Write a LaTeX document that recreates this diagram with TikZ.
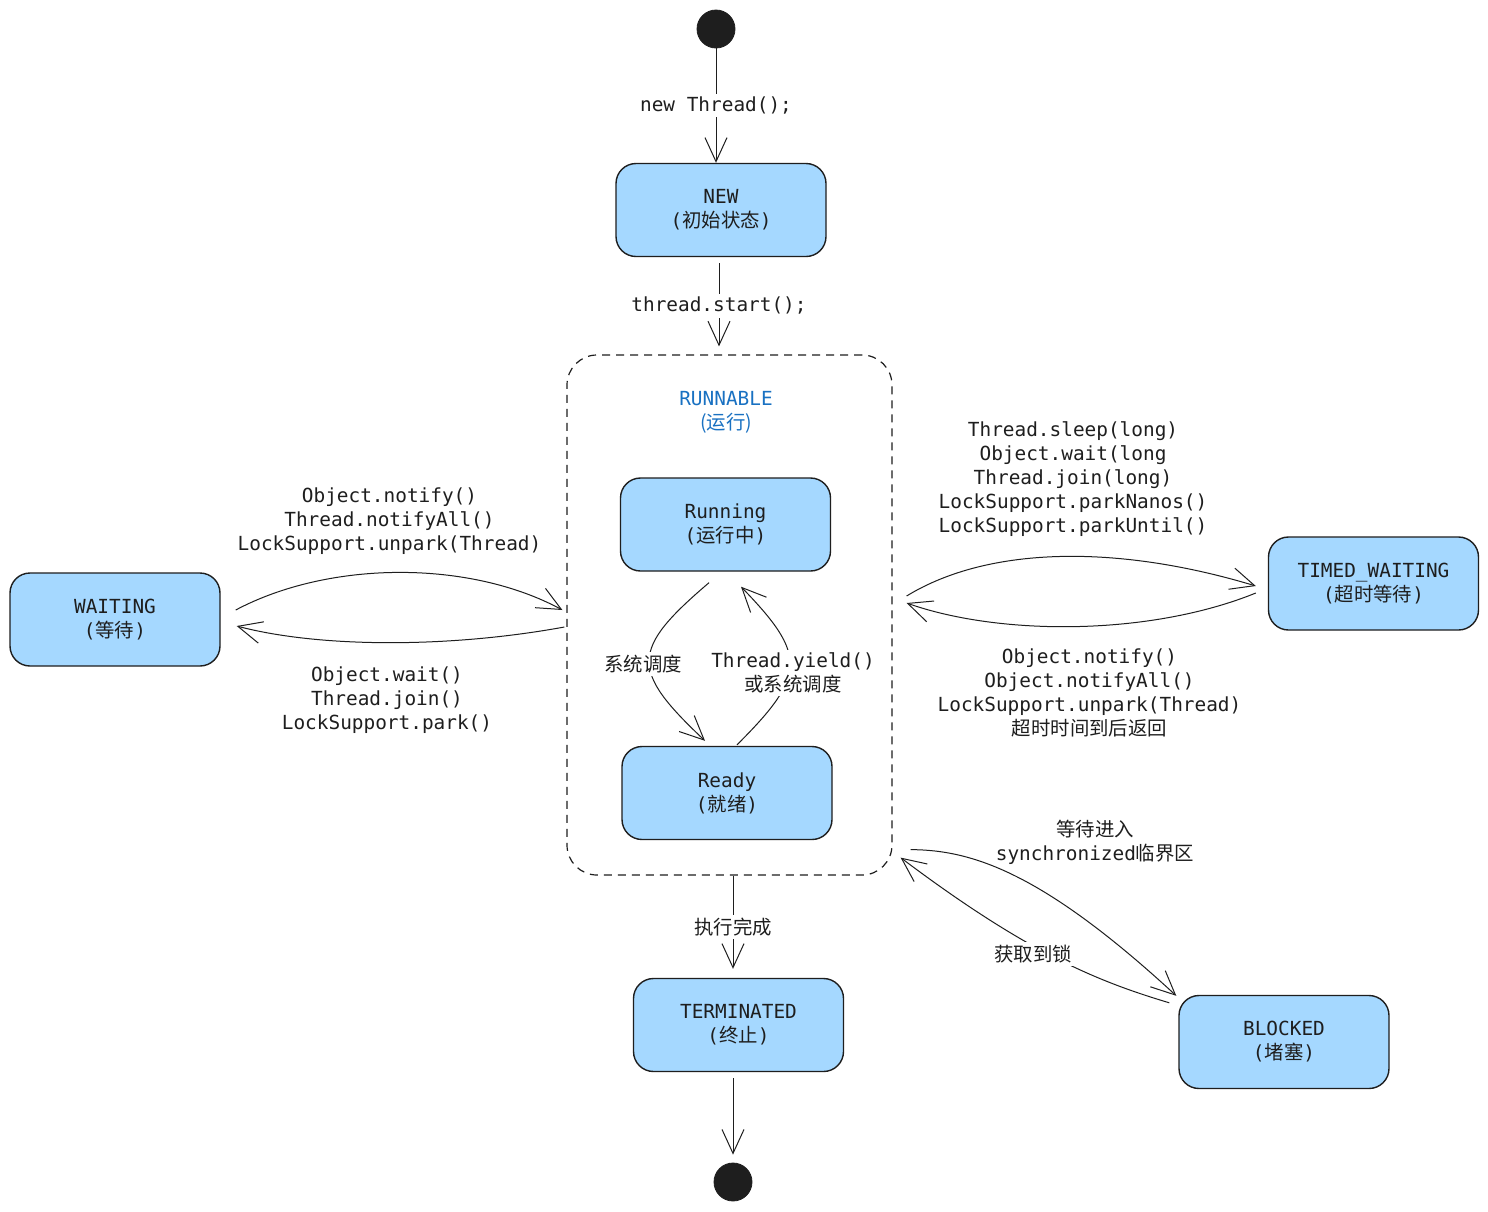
\documentclass[tikz,border=0pt]{standalone}
\usepackage{fontspec}
\setmainfont{DejaVu Sans Mono}
\newfontfamily\cjkfont{Noto Sans CJK SC}
\usetikzlibrary{arrows.meta,calc}
\definecolor{ink}{HTML}{1E1E1E}
\definecolor{boxfill}{HTML}{A5D8FF}
\definecolor{runblue}{HTML}{1971C2}
\newcommand{\zh}[1]{{\cjkfont #1}}
\begin{document}
\begin{tikzpicture}[x=0.5pt,y={(0,-0.5pt)},
  every node/.style={text=ink, font=\fontsize{9.7}{12}\selectfont},
  state/.style={draw=ink, fill=boxfill, line width=0.7pt, rounded corners=10pt,
    minimum width=105pt, minimum height=46.5pt, align=center, inner sep=0pt},
  dot/.style={circle, fill=ink, draw=ink, minimum size=19pt, inner sep=0pt},
  conn/.style={draw=ink, line width=0.5pt, -{Straight Barb[length=12pt,width=11pt]}},
  lbl/.style={fill=white, align=center, inner sep=1.5pt},
  txt/.style={align=center, inner sep=0pt}]
\fill[white] (0,0) rectangle (1488,1211);
\useasboundingbox (0,0) rectangle (1488,1211);

% container
\node[draw=ink, line width=0.6pt, dash pattern=on 4pt off 3pt, rounded corners=15pt,
  minimum width=162.5pt, minimum height=260pt, inner sep=0pt] (runnable) at (729.5,615) {};
\node[txt, text=runblue] (runlbl) at (726,412) {RUNNABLE\\\zh{(运行)}};

% states
\node[dot] (start) at (716,29) {};
\node[state] (new) at (721,210) {NEW\\(\zh{初始状态})};
\node[state] (running) at (725.5,524.5) {Running\\(\zh{运行中})};
\node[state] (ready) at (727,793) {Ready\\(\zh{就绪})};
\node[state] (waiting) at (115,619.5) {WAITING\\(\zh{等待})};
\node[state] (timed) at (1373.5,583.5) {TIMED\_WAITING\\(\zh{超时等待})};
\node[state] (blocked) at (1284,1042) {BLOCKED\\(\zh{堵塞})};
\node[state] (term) at (738.5,1025) {TERMINATED\\(\zh{终止})};
\node[dot] (end) at (733,1182) {};

% anchor helpers
\coordinate (ns) at ($(new.south)+(-2,0)$);
\coordinate (rs) at ($(runnable.south)+(3.5,0)$);
\coordinate (ts) at ($(term.south)+(-5.5,0)$);

% straight connectors
\draw[conn] (start.south) -- (start.south |- new.north)
  node[lbl, midway] (l1) {new Thread();};
\draw[conn, shorten <=3pt, shorten >=4pt] (ns) -- (ns |- runnable.north)
  node[lbl, midway] (l2) {thread.start();};
\draw[conn, shorten >=4.5pt] (rs) -- (rs |- term.north)
  node[lbl, midway] (l3) {\zh{执行完成}};
\draw[conn, shorten <=3pt, shorten >=4pt] (ts) -- (end.north);

% running <-> ready
\draw[conn] ($(running.south)+(-16.5,11)$) .. controls (630,650) and (630,670) .. ($(ready.north)+(-22,-5)$);
\draw[conn] ($(ready.north)+(10,-1)$) .. controls (807,675) and (807,655) .. ($(running.south)+(15.5,15)$);
\node[lbl] (l4) at (643,664) {\zh{系统调度}};
\node[lbl] (l5) at (793,673) {Thread.yield()\\\zh{或系统调度}};

% waiting
\draw[conn] ($(waiting.east)+(15,-9.5)$) .. controls (330,560) and (470,560) .. ($(runnable.west)+(-4,-5)$);
\draw[conn] ($(runnable.west)+(-2,12)$) .. controls (450,648) and (320,648) .. ($(waiting.east)+(16,6.5)$);
\node[txt] (l6) at (389.5,521.5) {Object.notify()\\Thread.notifyAll()\\LockSupport.unpark(Thread)};
\node[txt] (l7) at (387,700.5) {Object.wait()\\Thread.join()\\LockSupport.park()};

% timed waiting
\draw[conn] ($(runnable.east)+(14,-19)$) .. controls (990,545) and (1120,545) .. ($(timed.west)+(-12,2.5)$);
\draw[conn] ($(timed.west)+(-12,9.5)$) .. controls (1150,636) and (1000,636) .. ($(runnable.east)+(14,-12)$);
\node[txt] (l8) at (1073,479.5) {Thread.sleep(long)\\Object.wait(long\\Thread.join(long)\\LockSupport.parkNanos()\\LockSupport.parkUntil()};
\node[txt] (l9) at (1089.5,693) {Object.notify()\\Object.notifyAll()\\LockSupport.unpark(Thread)\\\zh{超时时间到后返回}};

% blocked
\draw[conn] ($(runnable.south east)+(18,-26)$) .. controls (970,850) and (1040,870) .. ($(blocked.north west)+(-2,1)$);
\draw[conn] ($(blocked.north west)+(-9,8)$) .. controls (1100,982) and (1030,955) .. ($(runnable.south east)+(8,-18)$);
\node[txt] (l10) at (1095,842) {\zh{等待进入}\\synchronized\zh{临界区}};
\node[lbl] (l11) at (1033,954) {\zh{获取到锁}};
\end{tikzpicture}
\end{document}
